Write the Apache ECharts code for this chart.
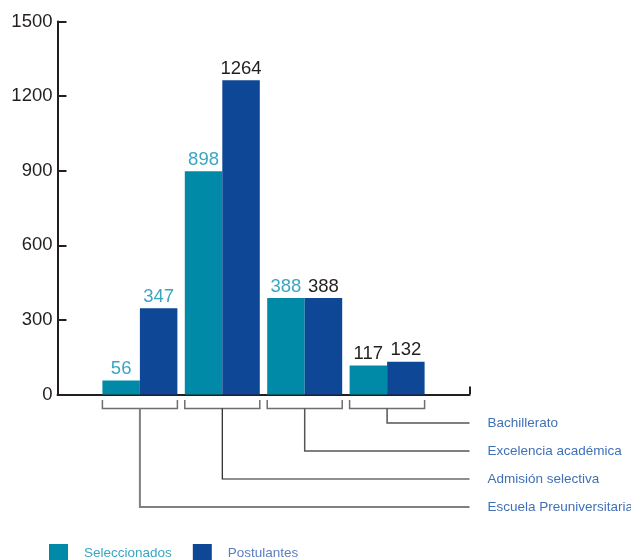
<!DOCTYPE html>
<html>
<head>
<meta charset="utf-8">
<script src="https://cdn.jsdelivr.net/npm/echarts@6/dist/echarts.min.js"></script>
<style>
html,body{margin:0;padding:0;background:#fff;}
#chart{width:631px;height:560px;}
</style>
</head>
<body>
<div id="chart"></div>
<script>
// ---- data ----
const categories = ['Escuela Preuniversitaria', 'Admisión selectiva', 'Excelencia académica', 'Bachillerato'];
const seleccionados = [56, 898, 388, 117];
const postulantes = [347, 1264, 388, 132];
const seriesNames = ['Seleccionados', 'Postulantes'];
const yTicks = [0, 300, 600, 900, 1200, 1500];

// ---- styles ----
const FONT = 'Liberation Sans, Arial, sans-serif';
const DARK = '#231f20';
const TEAL = '#008aa8';
const BLUE = '#0f4797';
const TEAL_TXT = '#3aa6c2';
const CAT_TXT = '#4170b6';
const BAR_W = 37.5;
const selLabelColors = [TEAL_TXT, TEAL_TXT, TEAL_TXT, DARK];
const posLabelColors = [TEAL_TXT, DARK, DARK, DARK];
const stemStyles = [
  {stroke: '#808080', lineWidth: 2},
  {stroke: DARK, lineWidth: 1.2},
  {stroke: '#555555', lineWidth: 1.5},
  {stroke: '#555555', lineWidth: 1.5}
];

const axisCats = [''].concat(categories, ['']);
function padded(vals, colors) {
  return ['-'].concat(vals.map((v, i) => ({value: v, label: {color: colors[i]}})), ['-']);
}

const chart = echarts.init(document.getElementById('chart'), null, {renderer: 'canvas'});
chart.setOption({
  animation: false,
  textStyle: {fontFamily: FONT},
  grid: {left: 57.5, top: 21.5, width: 412, height: 373, containLabel: false, outerBoundsMode: 'none'},
  legend: {
    left: 49, top: 544, padding: 0, icon: 'rect', itemWidth: 19, itemHeight: 19, itemGap: 21,
    textStyle: {fontFamily: FONT, fontSize: 13.5, padding: [0, 0, 0, 11]},
    data: [
      {name: seriesNames[0], textStyle: {color: TEAL_TXT}},
      {name: seriesNames[1], textStyle: {color: '#5b7fbe'}}
    ]
  },
  xAxis: {
    type: 'category', boundaryGap: false, data: axisCats,
    axisLine: {lineStyle: {color: DARK, width: 2}},
    axisTick: {show: true, inside: true, length: 8, lineStyle: {color: DARK, width: 2},
      interval: (i) => i === axisCats.length - 1},
    axisLabel: {show: false},
    splitLine: {show: false}
  },
  yAxis: {
    type: 'value', min: yTicks[0], max: yTicks[yTicks.length - 1], interval: yTicks[1] - yTicks[0],
    axisLine: {show: true, lineStyle: {color: DARK, width: 2}},
    axisTick: {show: true, inside: true, length: 9, lineStyle: {color: DARK, width: 2}},
    axisLabel: {color: DARK, fontSize: 18.5, fontFamily: FONT, margin: 5, formatter: (v) => String(v)},
    splitLine: {show: false}
  },
  series: [
    {
      name: seriesNames[0], type: 'bar', barWidth: BAR_W, barGap: '0%',
      itemStyle: {color: TEAL},
      label: {show: true, position: 'top', distance: 2, fontSize: 18.5, fontFamily: FONT},
      data: padded(seleccionados, selLabelColors)
    },
    {
      name: seriesNames[1], type: 'bar', barWidth: BAR_W, barGap: '0%',
      itemStyle: {color: BLUE},
      label: {show: true, position: 'top', distance: 2, fontSize: 18.5, fontFamily: FONT},
      data: padded(postulantes, posLabelColors)
    },
    {
      type: 'custom', clip: false, silent: true,
      data: categories.map((c, i) => [i + 1, 0, i]),
      renderItem: function (params, api) {
        const idx = api.value(0);
        const k = api.value(2);
        const p = api.coord([idx, 0]);
        const x = p[0], y0 = p[1];
        const cs = params.coordSys;
        const rightX = cs.x + cs.width;
        const depth = 28.5 + 28 * (categories.length - 1 - k);
        const h = BAR_W;
        return {
          type: 'group',
          children: [
            {type: 'polyline', shape: {points: [[x - h, y0 + 5.5], [x - h, y0 + 14], [x + h, y0 + 14], [x + h, y0 + 5.5]]},
              style: {stroke: '#6d6e71', lineWidth: 1.5, fill: null}},
            {type: 'polyline', shape: {points: [[x, y0 + 14], [x, y0 + depth], [rightX, y0 + depth]]},
              style: Object.assign({fill: null}, stemStyles[k])},
            {type: 'text', x: rightX + 18, y: y0 + depth,
              style: {text: categories[k], fill: CAT_TXT, fontSize: 13.5, fontFamily: FONT, verticalAlign: 'middle', align: 'left'}}
          ]
        };
      }
    }
  ]
});
</script>
</body>
</html>
